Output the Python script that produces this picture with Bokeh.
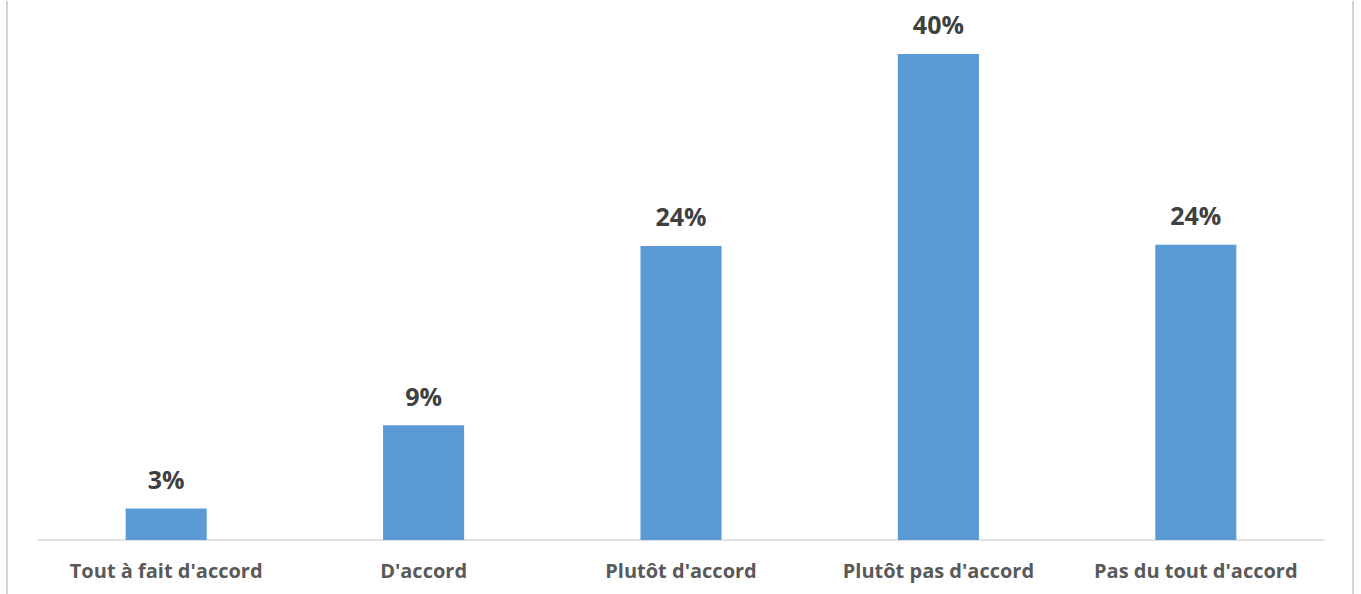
from bokeh.plotting import figure
from bokeh.models import FactorRange, Range1d, Span, ColumnDataSource
from bokeh.core.properties import value
from bokeh.embed import file_html
from bokeh.resources import INLINE

categories = ["Tout à fait d'accord", "D'accord", "Plutôt d'accord",
              "Plutôt pas d'accord", "Pas du tout d'accord"]
values = [2.6, 9.45, 24.2, 40.0, 24.3]
labels = [f"{round(v)}%" for v in values]

BAR = "#5B9BD5"
FONT = value("Open Sans")

pad = 0.1437          # absolute padding on each side, in category units
W, H = 1361, 594
p = figure(width=W, height=H, output_backend="svg", toolbar_location=None,
           x_range=FactorRange(factors=categories, range_padding=pad,
                               range_padding_units="absolute"),
           y_range=Range1d(-4.486, 44.40),
           x_axis_location=None, y_axis_location=None,
           min_border=0, min_border_left=0, min_border_right=0,
           min_border_top=0, min_border_bottom=0)
p.outline_line_color = None
p.xgrid.visible = False
p.ygrid.visible = False
p.background_fill_color = "white"
p.border_fill_color = "white"

src = ColumnDataSource(dict(x=categories, top=values, lab=labels,
                            zero=[0] * len(categories)))

# baseline (category axis line)
p.segment(x0=[0], y0=[0], x1=[len(categories)], y1=[0],
          line_color="#D9D9D9", line_width=1.5)

p.vbar(x="x", top="top", bottom=0, width=0.315, source=src,
       fill_color=BAR, line_color=None)

p.text(x="x", y="top", text="lab", source=src, text_align="center",
       text_baseline="alphabetic", y_offset=-29.5, text_font=FONT,
       text_font_style="bold", text_font_size="25px", text_color="#404040")

p.text(x="x", y="zero", text="x", source=src, text_align="center",
       text_baseline="alphabetic", y_offset=31, text_font=FONT,
       text_font_style="bold", text_font_size="20px", text_color="#595959")

# chart-area border lines at left and right
unit = W / (len(categories) + 2 * pad)
p.add_layout(Span(location=-pad + 6.5 / unit, dimension="height",
                  line_color="#D4D4D4", line_width=2))
p.add_layout(Span(location=-pad + 1352.5 / unit, dimension="height",
                  line_color="#D4D4D4", line_width=2))

open("out.html", "w").write(file_html(p, INLINE))
